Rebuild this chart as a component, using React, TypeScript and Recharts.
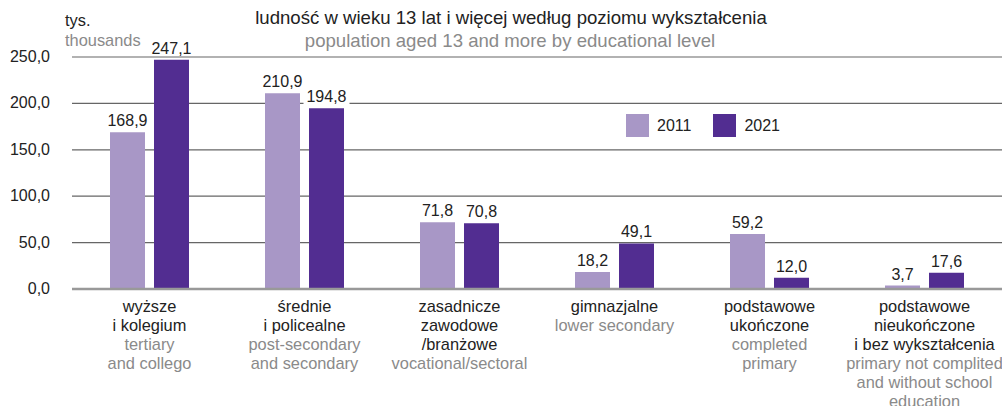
import { BarChart, Bar, XAxis, YAxis, CartesianGrid, ReferenceLine, LabelList } from "recharts";

const categoriesPl = [
  ["wyższe", "i kolegium"],
  ["średnie", "i policealne"],
  ["zasadnicze", "zawodowe", "/branżowe"],
  ["gimnazjalne"],
  ["podstawowe", "ukończone"],
  ["podstawowe", "nieukończone", "i bez wykształcenia"],
];

const categoriesEn = [
  ["tertiary", "and collego"],
  ["post-secondary", "and secondary"],
  ["vocational/sectoral"],
  ["lower secondary"],
  ["completed", "primary"],
  ["primary not complited", "and without school", "education"],
];

const values2011 = [168.9, 210.9, 71.8, 18.2, 59.2, 3.7];
const values2021 = [247.1, 194.8, 70.8, 49.1, 12.0, 17.6];
const yTicks = [0, 50, 100, 150, 200, 250];

const data = values2011.map((v, i) => ({
  idx: i,
  y2011: v,
  y2021: values2021[i],
}));

const FONT = "'Liberation Sans', Arial, sans-serif";
const fmt = (v: number) => v.toFixed(1).replace(".", ",");

function XTick(props: any) {
  const { x, y, payload } = props;
  const pl = categoriesPl[payload.value];
  const en = categoriesEn[payload.value];
  const lines = [...pl.map((t) => ({ t, c: "#222" })), ...en.map((t) => ({ t, c: "#8a8a8a" }))];
  return (
    <g>
      {lines.map((l, i) => (
        <text key={i} x={x} y={y + 15 + i * 19} textAnchor="middle" fill={l.c} fontSize={16.4} fontFamily={FONT}>
          {l.t}
        </text>
      ))}
    </g>
  );
}

function YTick(props: any) {
  const { y, payload } = props;
  return (
    <text x={50} y={y + 5} textAnchor="end" fill="#222" fontSize={16} fontFamily={FONT}>
      {fmt(payload.value)}
    </text>
  );
}

// value above each bar, with a white box so it cuts the gridline like the original
function ValueLabel(props: any) {
  const { x, y, width, value } = props;
  const cx = x + width / 2;
  const txt = fmt(value);
  const w = txt.length * 8.4 + 4;
  return (
    <g>
      <rect x={cx - w / 2} y={y - 22} width={w} height={18} fill="#fff" />
      <text x={cx} y={y - 6} textAnchor="middle" fill="#222" fontSize={16} fontFamily={FONT}>
        {txt}
      </text>
    </g>
  );
}

const legendItems = [
  { name: "2011", color: "#a897c6" },
  { name: "2021", color: "#522d91" },
];

export default function App() {
  return (
    <div style={{ position: "absolute", left: 0, top: 0, width: 1002, height: 406, background: "#fff", fontFamily: FONT }}>
      <div style={{ position: "absolute", left: 0, width: 1022, top: 7, textAlign: "center", fontSize: 18.6, color: "#222" }}>
        ludność w wieku 13 lat i więcej według poziomu wykształcenia
      </div>
      <div style={{ position: "absolute", left: 0, width: 1020, top: 30, textAlign: "center", fontSize: 18.6, color: "#8a8a8a" }}>
        population aged 13 and more by educational level
      </div>
      <div style={{ position: "absolute", left: 65, top: 11, fontSize: 16.4, color: "#222" }}>tys.</div>
      <div style={{ position: "absolute", left: 65, top: 31, fontSize: 16.4, color: "#8a8a8a" }}>thousands</div>
      <BarChart
        width={1002}
        height={406}
        data={data}
        margin={{ top: 57, right: 0, bottom: 0, left: 0 }}
        barGap={9}
        barSize={35}
      >
        <CartesianGrid vertical={false} horizontalValues={[50, 100, 150, 200, 250]} stroke="#666" strokeWidth={1.2} />
        <XAxis dataKey="idx" height={117} axisLine={false} tickLine={false} tick={<XTick />} interval={0} />
        <YAxis width={72} domain={[0, 250]} ticks={yTicks} axisLine={false} tickLine={false} tick={<YTick />} />
        <Bar dataKey="y2011" fill="#a897c6" isAnimationActive={false}>
          <LabelList dataKey="y2011" content={<ValueLabel />} />
        </Bar>
        <Bar dataKey="y2021" fill="#522d91" isAnimationActive={false}>
          <LabelList dataKey="y2021" content={<ValueLabel />} />
        </Bar>
        <ReferenceLine y={0} stroke="#999" strokeWidth={2.5} />
      </BarChart>
      <div style={{ position: "absolute", left: 626, top: 114, display: "flex", fontSize: 16, color: "#222" }}>
        {legendItems.map((it) => (
          <div key={it.name} style={{ display: "flex", alignItems: "center", marginRight: 22 }}>
            <div style={{ width: 23, height: 23, background: it.color, marginRight: 8 }} />
            <span>{it.name}</span>
          </div>
        ))}
      </div>
    </div>
  );
}
